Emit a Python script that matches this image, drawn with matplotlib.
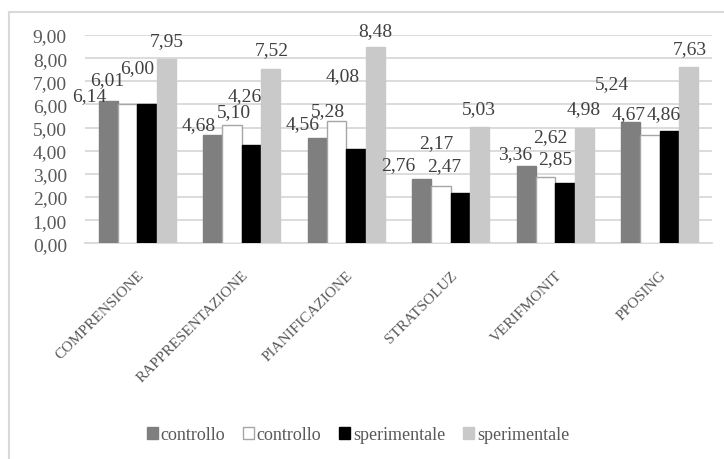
import matplotlib.pyplot as plt
import numpy as np
from matplotlib.lines import Line2D
from matplotlib.patches import Patch

plt.rcParams['font.family'] = ['Liberation Serif', 'DejaVu Serif']

# categorie e valori
categorie = ['COMPRENSIONE', 'RAPPRESENTAZIONE', 'PIANIFICAZIONE',
             'STRATSOLUZ', 'VERIFMONIT', 'PPOSING']
controllo_a = [6.14, 4.68, 4.56, 2.76, 3.36, 5.24]
controllo_b = [6.01, 5.10, 5.28, 2.47, 2.85, 4.67]
sperim_a = [6.00, 4.26, 4.08, 2.17, 2.62, 4.86]
sperim_b = [7.95, 7.52, 8.48, 5.03, 4.98, 7.63]
nomi_serie = ['controllo', 'controllo', 'sperimentale', 'sperimentale']

# posizione delle etichette (spostate come nell'originale)
lab_dx = [[-0.46, -0.41, -0.42, -0.50, -0.38, -0.46],
          [-0.29, -0.07, -0.18, -0.06, 0.00, -0.30],
          [0.00, 0.03, -0.03, -0.14, -0.05, 0.04],
          [0.28, 0.29, 0.28, 0.27, 0.27, 0.29]]
lab_y = [[6.38, 5.15, 5.19, 3.40, 3.86, 6.91],
         [7.07, 5.67, 5.73, 3.35, 3.64, 5.59],
         [7.58, 6.37, 7.23, 4.36, 4.59, 5.59],
         [8.76, 8.37, 9.18, 5.83, 5.80, 8.40]]

fig = plt.figure(figsize=(7.24, 4.6), dpi=100)
ax = fig.add_axes([85/724, 1-244.3/460, (712-85)/724, (244.3-36)/460])

serie = [controllo_a, controllo_b, sperim_a, sperim_b]
colori = ['#7f7f7f', 'white', 'black', '#c9c9c9']
bordi = ['#7f7f7f', '#a6a6a6', 'black', '#c9c9c9']
x = np.arange(len(categorie))
w = 0.185
for i, vals in enumerate(serie):
    ax.bar(x + (i - 1.5) * w, vals, w, color=colori[i], edgecolor=bordi[i],
           linewidth=1.0, zorder=3)
    for j, v in enumerate(vals):
        ax.text(x[j] + lab_dx[i][j], lab_y[i][j], f'{v:.2f}'.replace('.', ','),
                ha='center', va='center', fontsize=14, color='#404040',
                clip_on=False, zorder=4)

ax.set_xlim(-0.5, len(categorie) - 0.5)
ax.set_ylim(0, 9)
ax.set_yticks(np.arange(0, 10, 1))
ax.set_yticklabels([f'{t:.2f}'.replace('.', ',') for t in range(10)],
                   fontsize=14, color='#595959')
ax.set_xticks(x)
ax.set_xticklabels(categorie, rotation=45, ha='right', va='top',
                   rotation_mode='anchor', fontsize=11, color='#595959')
ax.tick_params(axis='y', length=0, pad=13)
ax.tick_params(axis='x', length=0, pad=18)
ax.grid(axis='y', color='#d9d9d9', linewidth=1.3, zorder=0)
for s in ['top', 'right', 'left']:
    ax.spines[s].set_visible(False)
ax.spines['bottom'].set_color('#d9d9d9')
ax.spines['bottom'].set_linewidth(1.3)

# legenda
handles = [Patch(facecolor=colori[i], edgecolor=bordi[i]) for i in range(4)]
fig.legend(handles, nomi_serie, loc='center', bbox_to_anchor=(358/724, 1-436/460),
           ncol=4, frameon=False, fontsize=13, labelcolor='#595959',
           handlelength=0.6, handleheight=0.6, handletextpad=0.15, columnspacing=1.0)

# cornice esterna
fig.add_artist(Line2D([9/724, 9/724], [0, 1-13/460], color='#d9d9d9', linewidth=1.5))
fig.add_artist(Line2D([9/724, 1], [1-13/460, 1-13/460], color='#d9d9d9', linewidth=1.5))

fig.savefig('out.png', dpi=100)
